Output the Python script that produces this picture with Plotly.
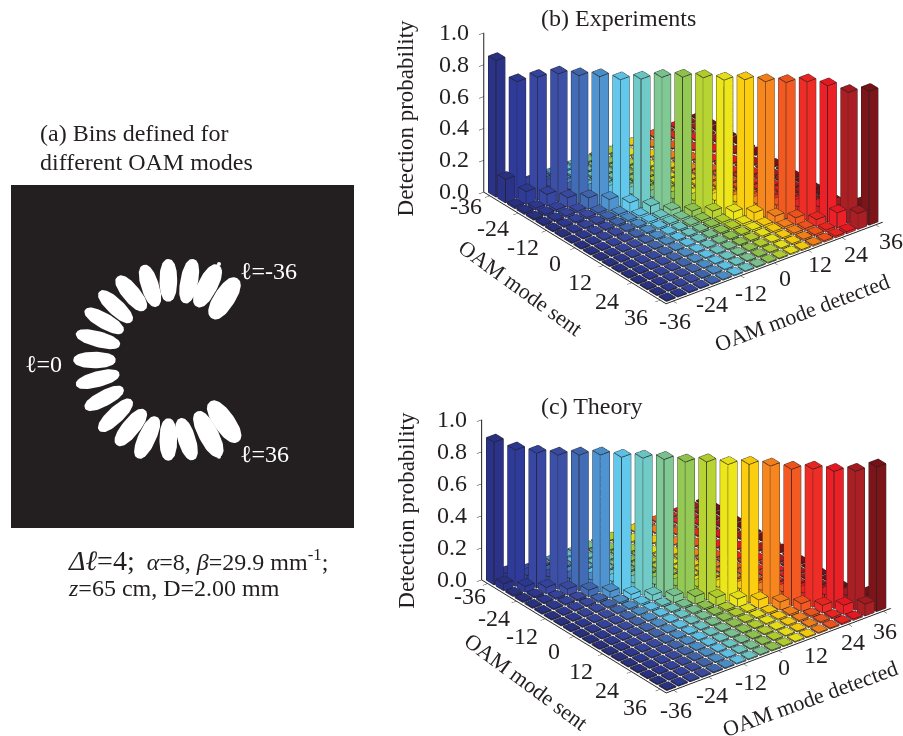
import math
import plotly.graph_objects as go

modes = [-36,-32,-28,-24,-20,-16,-12,-8,-4,0,4,8,12,16,20,24,28,32,36]
col_colors = ["#2b3388","#2f3b98","#3747a3","#3c50a8","#436cb6","#4f94d0","#63c9ec","#70cbc8","#80c995","#93c954","#b8d432","#ece61b","#fbcf10","#f8861f","#f35a22","#ee2d27","#ec2027","#a91f24","#7c1519"]
top_colors = ["#283080","#2c378f","#33429a","#38499f","#3f64ac","#4a8cc6","#5cc0e4","#69c3c0","#78c18d","#8bc14c","#b0cc2c","#e4de18","#f3c70c","#f07e1a","#eb521c","#e62521","#e41821","#a11a20","#741116"]

exp_diag = [.857,.734,.771,.802,.801,.805,.795,.809,.83,.841,.847,.842,.854,.851,.856,.87,.855,.823,.84]
exp_front = [.147,.08,.072,.061,.07,.07,.059,.048,.032,.036,.046,.05,.055,.043,.043,.042,.094,.1]
exp_back = [.07,.06,.06,.05,.05,.05,.05,.04,.04,.04,.05,.05,.05,.05,.05,.06,.08,.09]
exp_far = [.012,.010,.008,.007,.006,.006,.005,.005,.005,.005,.005,.005,.005,.005,.005,.005,.005]

thy_diag = [.891,.851,.84,.837,.847,.857,.852,.856,.857,.85,.86,.853,.863,.862,.851,.861,.856,.866,.902]
thy_front = [.042,.035,.039,.038,.04,.04,.032,.037,.041,.047,.05,.05,.053,.049,.048,.047,.057,.073]
thy_back = [.042,.04,.04,.04,.04,.04,.04,.04,.04,.045,.05,.05,.05,.05,.05,.05,.055,.07]
thy_far = [.008,.007,.006,.005,.005,.005,.005,.005,.005,.005,.005,.005,.005,.005,.005,.005,.005]

z_ticks = [0,.2,.4,.6,.8,1]
z_labels = ["0.0","0.2","0.4","0.6","0.8","1.0"]
mode_ticks = [-36,-24,-12,0,12,24,36]
sent_shift_b = [(-24,10),(-25,15),(-24,16),(-20,15),(-23,17),(-25,18),(-24,17)]
det_shift_b = [(2,20),(5,16),(10,17),(11,15),(12,14),(14,16),(15,16)]
sent_shift_c = [(-18,12),(-23,17),(-23,17),(-20,15),(-22,17),(-25,18),(-25,18)]
det_shift_c = [(2,20),(3,18),(7,18),(5,16),(3,17),(5,18),(2,20)]

lobe_x0 = [635,590,555,505,470,435,395,370,360,347,358,370,395,435,470,505,540,590,630]
lobe_y0 = [625,590,580,575,590,600,635,665,705,750,790,835,870,900,920,925,925,905,875]
lobe_x1 = [712,655,580,505,430,352,298,255,228,220,228,255,298,350,413,505,580,660,715]
lobe_y1 = [505,465,447,447,465,500,545,600,670,750,825,895,962,1005,1045,1052,1050,1040,995]
lobe_w = [63,59,53,53,53,53,49,47,47,49,47,47,49,53,53,53,53,59,63]
nub_x = [657,657]
nub_y = [462,1040]

SERIF = "Liberation Serif"
INK = "#231f20"
W, H = 903, 736

def bars(diag, front, back, far):
    xs, ys, zs, ii, jj, kk, fc = [], [], [], [], [], [], []
    ex, ey, ez = [], [], []
    hw = 1.6
    for s, sent in enumerate(modes):
        for d, det in enumerate(modes):
            off = s - d
            if off == 0: h = diag[d]
            elif off == 1: h = front[d]
            elif off == -1: h = back[s]
            else: h = far[abs(off) - 2]
            n = len(xs)
            for zv in (0, h):
                for dx, dy in ((-1,-1),(1,-1),(1,1),(-1,1)):
                    xs.append(sent + dx*hw); ys.append(det + dy*hw); zs.append(zv)
            for a, b, c, col in ((4,5,6,top_colors[d]),(4,6,7,top_colors[d]),
                                 (0,1,5,col_colors[d]),(0,5,4,col_colors[d]),
                                 (1,2,6,col_colors[d]),(1,6,5,col_colors[d]),
                                 (2,3,7,col_colors[d]),(2,7,6,col_colors[d]),
                                 (3,0,4,col_colors[d]),(3,4,7,col_colors[d])):
                ii.append(n+a); jj.append(n+b); kk.append(n+c); fc.append(col)
            for a, b in ((4,5),(5,6),(6,7),(7,4),(0,4),(1,5),(2,6),(3,7),(0,1),(1,2),(2,3),(3,0)):
                ex += [xs[n+a], xs[n+b], None]
                ey += [ys[n+a], ys[n+b], None]
                ez += [zs[n+a], zs[n+b], None]
    return xs, ys, zs, ii, jj, kk, fc, ex, ey, ez

def add_panel(fig, name, diag, front, back, far):
    xs, ys, zs, ii, jj, kk, fc, ex, ey, ez = bars(diag, front, back, far)
    fig.add_trace(go.Mesh3d(x=xs, y=ys, z=zs, i=ii, j=jj, k=kk, facecolor=fc, flatshading=True,
                            lighting=dict(ambient=1, diffuse=0, specular=0, fresnel=0, roughness=1),
                            hoverinfo="skip", scene=name))
    fig.add_trace(go.Scatter3d(x=ex, y=ey, z=ez, mode="lines", line=dict(color=INK, width=1.5),
                               hoverinfo="skip", showlegend=False, scene=name))

def lab(x, y, z, text, dx, dy, angle=0, xanchor="center", color=INK, size=24):
    return dict(x=x, y=y, z=z, text=text, showarrow=False, xanchor=xanchor, yanchor="middle",
                xshift=dx, yshift=-dy, textangle=angle, font=dict(family=SERIF, size=size, color=color))

def scene_layout(dom_x, dom_y, aspect, phi, theta, scale, box_px, titles, sent_shift, det_shift):
    # orthographic camera aimed so the plot box centre lands on box_px
    cp, sp, ct, st = math.cos(phi), math.sin(phi), math.cos(theta), math.sin(theta)
    d = (ct*cp, ct*sp, st)
    r = (-sp, cp, 0)
    u = (-st*cp, -st*sp, ct)
    cx = (dom_x[0]+dom_x[1])/2*W
    cy = (1-(dom_y[0]+dom_y[1])/2)*H
    dx = (box_px[0]-cx)/scale
    dy = (cy-box_px[1])/scale
    c = [-(dx*r[i]+dy*u[i]) for i in range(3)]
    D = 1.7
    eye = [c[i]+D*d[i] for i in range(3)]
    ax = dict(showbackground=False, showgrid=False, zeroline=False, showspikes=False,
              showline=True, linecolor=INK, linewidth=2, ticks="outside", ticklen=6, tickwidth=1,
              tickcolor=INK, showticklabels=False, title=dict(text=""))
    lo, hi = -38.5, 38.5
    notes = []
    for v, (a, b) in zip(mode_ticks, sent_shift):
        notes.append(lab(v, lo, 0, str(v), a, b))
    for v, (a, b) in zip(mode_ticks, det_shift):
        notes.append(lab(hi, v, 0, str(v), a, b))
    for v, t in zip(z_ticks, z_labels):
        notes.append(lab(lo, lo, v, t, -13, -1, xanchor="right"))
    notes.append(lab(0, lo, 0, "OAM mode sent", titles[0][0], titles[0][1], titles[0][2], size=22))
    notes.append(lab(hi, 0, 0, "OAM mode detected", titles[1][0], titles[1][1], titles[1][2], size=22))
    notes.append(lab(lo, lo, .5, "Detection probability", titles[2][0], titles[2][1], -90, size=23))
    return dict(domain=dict(x=dom_x, y=dom_y), bgcolor="rgba(0,0,0,0)",
                aspectmode="manual", aspectratio=dict(x=aspect[0], y=aspect[1], z=aspect[2]),
                camera=dict(eye=dict(x=eye[0], y=eye[1], z=eye[2]), center=dict(x=c[0], y=c[1], z=c[2]),
                            up=dict(x=0, y=0, z=1), projection=dict(type="orthographic")),
                annotations=notes,
                xaxis={**ax, "range":[lo,hi], "tickvals":mode_ticks},
                yaxis={**ax, "range":[lo,hi], "tickvals":mode_ticks},
                zaxis={**ax, "range":[0,1], "tickvals":z_ticks})

fig = go.Figure()
add_panel(fig, "scene", exp_diag, exp_front, exp_back, exp_far)
add_panel(fig, "scene2", thy_diag, thy_front, thy_back, thy_far)

# lobes of panel (a)
for x0, y0, x1, y1, w in zip(lobe_x0, lobe_y0, lobe_x1, lobe_y1, lobe_w):
    mx, my = (x0+x1)/2, (y0+y1)/2
    L = math.hypot(x1-x0, y1-y0)/2
    ux, uy = (x1-x0)/(2*L), (y1-y0)/(2*L)
    px, py = [], []
    for t in range(73):
        a = t*2*math.pi/72
        p = math.copysign(abs(math.cos(a))**(2/2.3), math.cos(a))*L
        q = math.copysign(abs(math.sin(a))**(2/2.3), math.sin(a))*w/2
        px.append(mx + p*ux - q*uy); py.append(my + p*uy + q*ux)
    fig.add_trace(go.Scatter(x=px, y=py, mode="lines", fill="toself", fillcolor="white",
                             line=dict(color="white", width=0), hoverinfo="skip", showlegend=False,
                             xaxis="x", yaxis="y"))
fig.add_trace(go.Scatter(x=nub_x, y=nub_y, mode="markers", marker=dict(color="white", size=4),
                         hoverinfo="skip", showlegend=False, xaxis="x", yaxis="y"))

def note(x, y, text, size=24, color=INK, ref="paper", angle=0, anchor="left"):
    xr = "paper" if ref == "paper" else "x"
    yr = "paper" if ref == "paper" else "y"
    if ref == "paper":
        x, y = x/W, 1-y/H
    return dict(x=x, y=y, xref=xr, yref=yr, text=text, showarrow=False, xanchor=anchor, yanchor="middle",
                textangle=angle, font=dict(family=SERIF, size=size, color=color))

annots = [
    note(539, 18, "(b) Experiments"),
    note(539, 406, "(c) Theory"),
    note(38, 133, "(a) Bins defined for"),
    note(38, 162, "different OAM modes"),
    note(66, 560, "<span style='font-size:28px'><i>Δℓ</i>=4;</span>\u00a0\u00a0<i>α</i>=8, <i>β</i>=29.9 mm<sup>-1</sup>;"),
    note(66, 588, "<i>z</i>=65 cm, D=2.00 mm"),
    note(715, 482, "ℓ=-36", color="white", ref="x"),
    note(715, 1033, "ℓ=36", color="white", ref="x"),
    note(69, 763, "ℓ=0", color="white", ref="x"),
]

PX = 181.0
fig.update_layout(
    width=W, height=H, margin=dict(l=0, r=0, t=0, b=0), paper_bgcolor="white",
    showlegend=False, annotations=annots, plot_bgcolor=INK,
    xaxis=dict(domain=[11/W, 354/W], range=[33,1062], visible=False),
    yaxis=dict(domain=[1-528/H, 1-185/H], range=[1254,225], visible=False),
    scene=scene_layout([0.42,1.0],[1-365/H,1.0],(293/PX,273/PX,180/PX),math.radians(-38.1),math.radians(28.7),PX,(683,128),
                       [(-55,40,36),(28,50,-20.5),(-78,5)], sent_shift_b, det_shift_b),
    scene2=scene_layout([0.42,1.0],[0,1-375/H],(300/PX,286/PX,183/PX),math.radians(-38.1),math.radians(28.7),PX,(686.4,514),
                        [(-48,45,36.5),(32,48,-20),(-75,10)], sent_shift_c, det_shift_c),
)
fig.write_html("out.html", config=dict(displayModeBar=False),
               post_script="document.body.style.margin='0';document.body.style.overflow='hidden';")
